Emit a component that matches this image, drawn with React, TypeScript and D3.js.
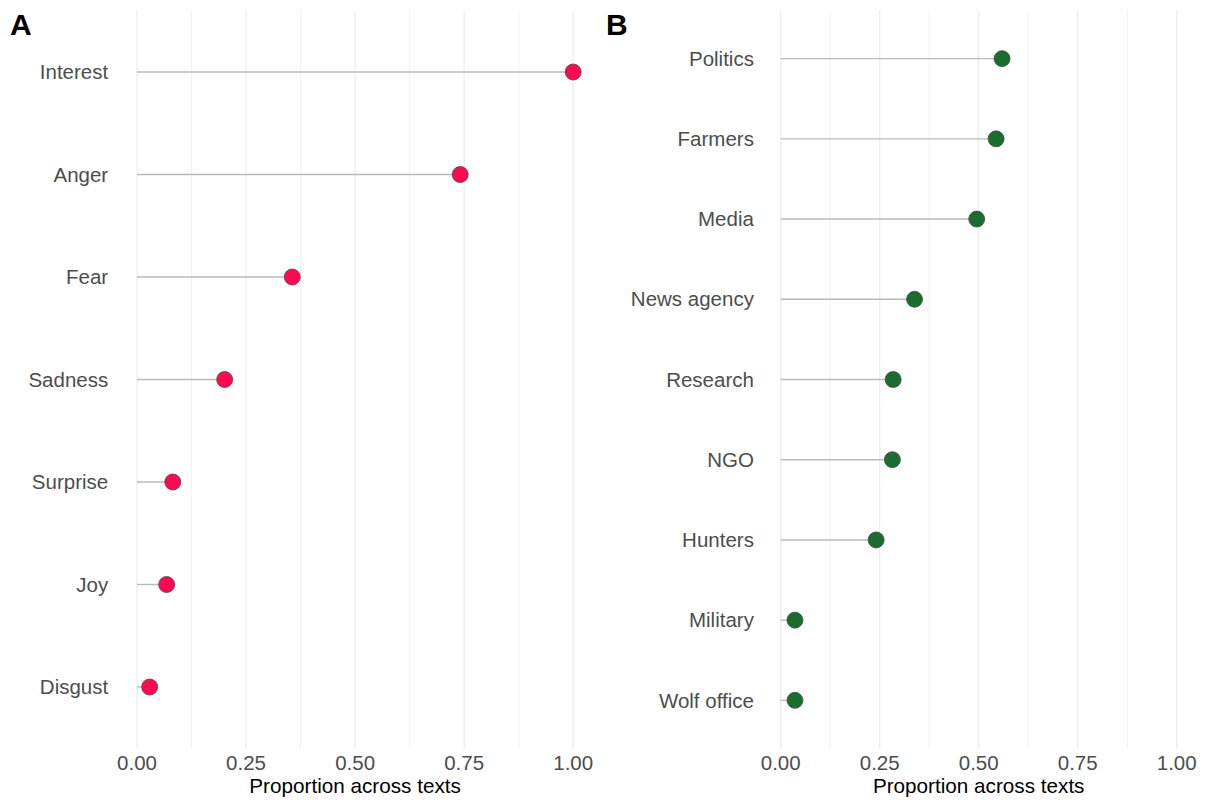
import React from 'react';
import * as d3 from 'd3';

// Panel A: emotions
const emotions = ['Interest', 'Anger', 'Fear', 'Sadness', 'Surprise', 'Joy', 'Disgust'];
const emotionValues = [1.0, 0.741, 0.356, 0.201, 0.082, 0.068, 0.029];

// Panel B: actors
const actors = ['Politics', 'Farmers', 'Media', 'News agency', 'Research', 'NGO', 'Hunters', 'Military', 'Wolf office'];
const actorValues = [0.559, 0.544, 0.495, 0.338, 0.284, 0.282, 0.241, 0.036, 0.036];

const xTicks = [0, 0.25, 0.5, 0.75, 1.0];
const xMinor = [0.125, 0.375, 0.625, 0.875];
const xTitle = 'Proportion across texts';

const FONT = '"Liberation Sans", Arial, Helvetica, sans-serif';
const W = 1209;
const H = 803;

interface PanelProps {
  tag: string;
  tagX: number;
  left: number;
  right: number;
  cats: string[];
  values: number[];
  fill: string;
}

const Panel: React.FC<PanelProps> = ({ tag, tagX, left, right, cats, values, fill }) => {
  const top = 10.5;
  const bottom = 748.5;

  const x = d3.scaleLinear().domain([-0.05, 1.05]).range([left, right]);
  const y = d3.scalePoint<string>().domain(cats).range([top, bottom]).padding(0.6);

  return (
    <g>
      {/* grid */}
      {xMinor.map(t => (
        <line key={'mi' + t} x1={x(t)} x2={x(t)} y1={top} y2={bottom} stroke="#efefef" strokeWidth={0.9} />
      ))}
      {xTicks.map(t => (
        <line key={'ma' + t} x1={x(t)} x2={x(t)} y1={top} y2={bottom} stroke="#ebebeb" strokeWidth={1.2} />
      ))}

      {/* lollipop stems */}
      {cats.map((c, i) => (
        <line key={'s' + c} x1={x(0)} x2={x(values[i])} y1={y(c)} y2={y(c)} stroke="#bababa" strokeWidth={1.4} />
      ))}

      {/* dots */}
      {cats.map((c, i) => (
        <circle key={'d' + c} cx={x(values[i])} cy={y(c)} r={8} fill={fill} stroke="#4a4a4a" strokeWidth={0.8} />
      ))}

      {/* y labels */}
      {cats.map(c => (
        <text key={'l' + c} x={left - 7} y={y(c)} dy="0.35em" textAnchor="end" fontSize={20.5} fill="#4d4d4d" fontFamily={FONT}>
          {c}
        </text>
      ))}

      {/* x tick labels */}
      {xTicks.map(t => (
        <text key={'t' + t} x={x(t)} y={770} textAnchor="middle" fontSize={20.5} fill="#4d4d4d" fontFamily={FONT}>
          {d3.format('.2f')(t)}
        </text>
      ))}

      <text x={(left + right) / 2} y={793} textAnchor="middle" fontSize={20.7} fill="#000" fontFamily={FONT}>
        {xTitle}
      </text>

      <text x={tagX} y={35} fontSize={30} fontWeight="bold" fill="#000" fontFamily={FONT}>
        {tag}
      </text>
    </g>
  );
};

export default function App() {
  return (
    <svg width={W} height={H} style={{ position: 'absolute', left: 0, top: 0, background: '#fff' }}>
      <rect width={W} height={H} fill="#fff" />
      <Panel tag="A" tagX={10} left={115.2} right={595} cats={emotions} values={emotionValues} fill="#ff0a52" />
      <Panel tag="B" tagX={606} left={760.9} right={1196.5} cats={actors} values={actorValues} fill="#1b6d2f" />
    </svg>
  );
}
